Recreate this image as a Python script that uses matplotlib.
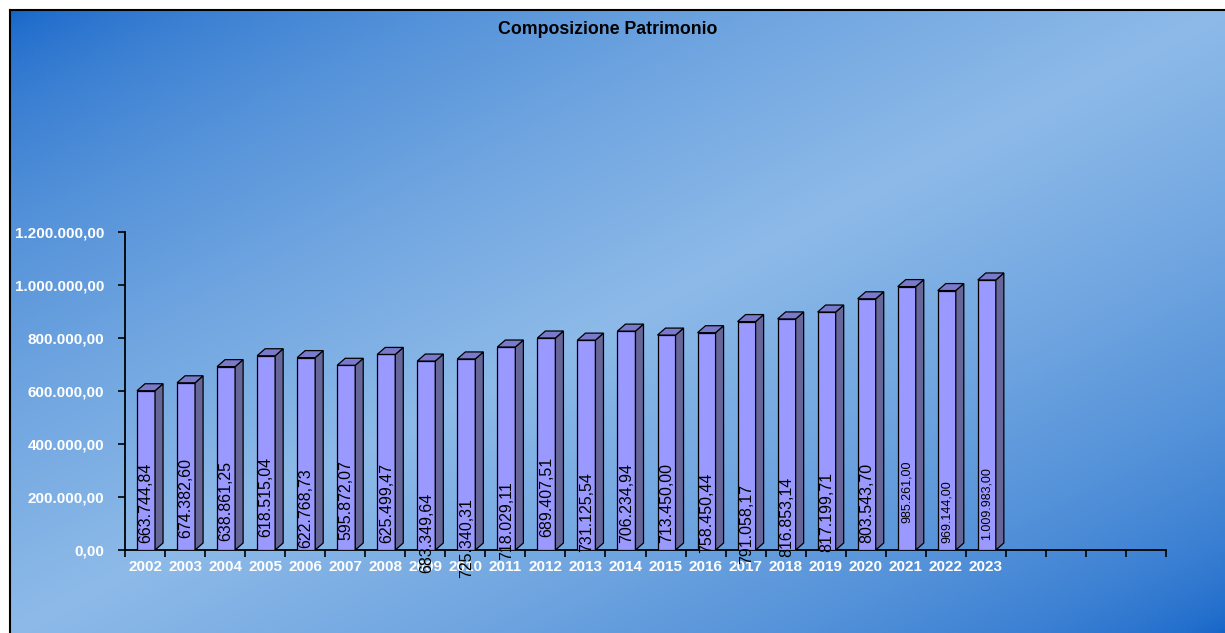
import numpy as np
from matplotlib import pyplot as plt
from matplotlib.patches import Polygon
from matplotlib.colors import to_rgb

# bar heights as drawn, and the value labels printed on them
years = [str(y) for y in range(2002, 2024)]
heights = [601000, 631000, 692000, 733000, 726000, 697000, 738000, 713000,
           721000, 766000, 800000, 792000, 826000, 811000, 820000, 862000,
           872000, 898000, 948000, 994000, 979000, 1019000]
labels = ['663.744,84', '674.382,60', '638.861,25', '618.515,04', '622.768,73',
          '595.872,07', '625.499,47', '683.349,64', '725.340,31', '718.029,11',
          '689.407,51', '731.125,54', '706.234,94', '713.450,00', '758.450,44',
          '791.058,17', '816.853,14', '817.199,71', '803.543,70', '985.261,00',
          '969.144,00', '1.009.983,00']
# where each label starts (data units), they are not all on the base line
label_base = [26400, 45300, 34000, 49100, 7500, 37700, 26400, -86800,
              -105700, -37700, 49100, -7500, 26400, 26400, -11300, -52800,
              -26400, -7500, 26400, 101900, 26400, 37700]
n_slots = 26


def it(v, pos=None):
    s = f'{v:,.2f}'
    return s.replace(',', 'X').replace('.', ',').replace('X', '.')


def background(fig):
    bg = fig.add_axes([10/1225, 0, 1 - 10/1225, 1 - 10/633], zorder=-10)
    xx, yy = np.meshgrid(np.linspace(0, 1, 400), np.linspace(0, 1, 200))
    t = (xx + yy) / 2
    s = (1 - np.abs(2*t - 1)) ** 0.6
    dark = np.array(to_rgb('#1263c8'))
    light = np.array(to_rgb('#8dbae8'))
    img = dark + (light - dark) * s[..., None]
    bg.imshow(img, aspect='auto', extent=[0, 1, 1, 0])
    bg.set_xlim(0, 1)
    bg.set_ylim(1, 0)
    bg.set_xticks([])
    bg.set_yticks([])
    for side in ['right', 'bottom']:
        bg.spines[side].set_visible(False)
    for side in ['top', 'left']:
        bg.spines[side].set_linewidth(1.5)
        bg.spines[side].set_color('black')


def main():
    plt.rcParams['font.family'] = ['Liberation Sans', 'DejaVu Sans']
    fig = plt.figure(figsize=(12.25, 6.33), dpi=100)
    background(fig)

    ax = fig.add_axes([125/1225, 83/633, 1041/1225, 318/633])
    ax.patch.set_alpha(0)
    ax.set_xlim(0, n_slots)
    ax.set_ylim(0, 1200000)

    dx = 0.2
    dy = 26400
    x = np.arange(len(years))
    ax.bar(x + 0.3, heights, width=0.45, align='edge', color='#9999ff',
           edgecolor='black', linewidth=0.9, zorder=3)
    for i, v in enumerate(heights):
        l, r = i + 0.3, i + 0.75
        side = Polygon([(r, 0), (r + dx, dy), (r + dx, v + dy), (r, v)],
                       closed=True, facecolor='#666699', edgecolor='black',
                       linewidth=0.9, zorder=3)
        top = Polygon([(l, v), (r, v), (r + dx, v + dy), (l + dx, v + dy)],
                      closed=True, facecolor='#7a7acc', edgecolor='black',
                      linewidth=0.9, zorder=3)
        ax.add_patch(side)
        ax.add_patch(top)
        ax.text(i + 0.525, label_base[i], labels[i], rotation=90,
                ha='center', va='bottom', fontsize=9 if i >= 19 else 11.5,
                color='black', zorder=5)

    ax.set_yticks(np.arange(0, 1200001, 200000))
    ax.yaxis.set_major_formatter(plt.FuncFormatter(it))
    ax.set_xticks(np.arange(0, n_slots + 1))
    ax.set_xticklabels([])
    ax.set_xticks(x + 0.5, minor=True)
    ax.set_xticklabels(years, minor=True)
    ax.tick_params(axis='x', which='minor', length=0, pad=7)
    ax.tick_params(axis='x', which='major', length=5, width=1.2,
                   direction='out', color='black')
    ax.tick_params(axis='y', length=5, width=1.2, direction='out',
                   color='black', pad=10)
    for lab in ax.get_xticklabels(minor=True) + ax.get_yticklabels():
        lab.set_color('white')
        lab.set_fontweight('bold')
        lab.set_fontsize(11)
    for side in ['top', 'right']:
        ax.spines[side].set_visible(False)
    for side in ['left', 'bottom']:
        ax.spines[side].set_linewidth(1.3)
        ax.spines[side].set_color('black')

    fig.text(608/1225, 1 - 30/633, 'Composizione Patrimonio', ha='center',
             va='center', fontsize=12.8, fontweight='bold', color='black')

    fig.savefig('out.png', dpi=100)


main()
